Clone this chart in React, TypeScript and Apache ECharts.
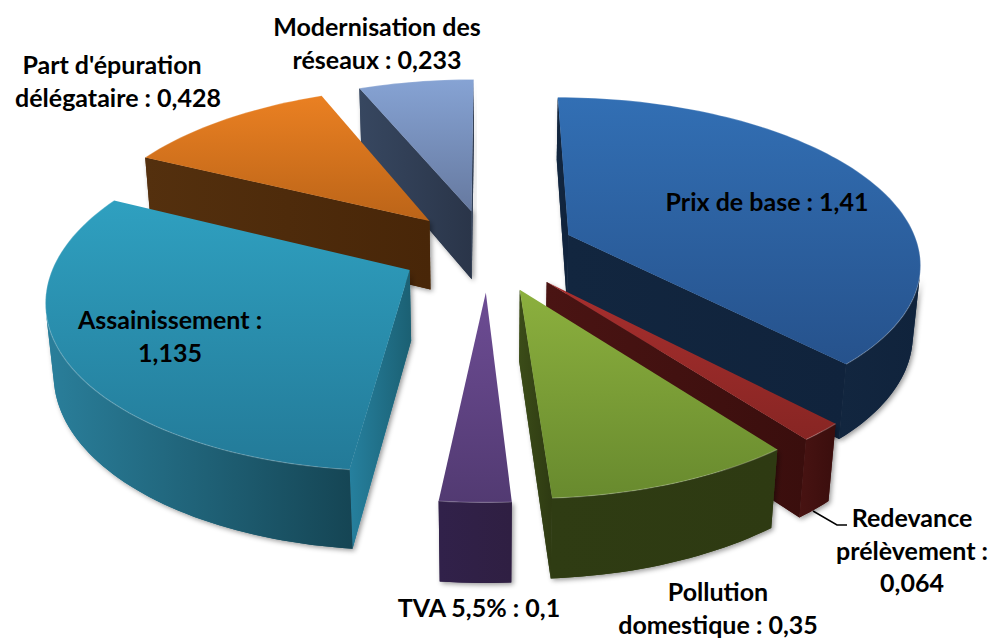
import React, { useEffect, useRef } from "react";
import * as echarts from "echarts";

// ---- data ----
const categories = [
  "Prix de base",
  "Redevance prélèvement",
  "Pollution domestique",
  "TVA 5,5%",
  "Assainissement",
  "Part d'épuration délégataire",
  "Modernisation des réseaux",
];
const values = [1.41, 0.064, 0.35, 0.1, 1.135, 0.428, 0.233];
const labelLines = [
  ["Prix de base : 1,41"],
  ["Redevance", "prélèvement :", "0,064"],
  ["Pollution", "domestique : 0,35"],
  ["TVA 5,5% : 0,1"],
  ["Assainissement :", "1,135"],
  ["Part d'épuration", "délégataire : 0,428"],
  ["Modernisation des", "réseaux : 0,233"],
];

// ---- styles and layout (kept apart from the data) ----
const topColors = [
  ["#326fb4", "#26528c"],
  ["#a82f2e", "#872523"],
  ["#8cb03e", "#688a2e"],
  ["#6d4c94", "#523a72"],
  ["#2fa0c0", "#237a98"],
  ["#ea8022", "#bb6418"],
  ["#86a3d4", "#66799f"],
];
const sideColors = [
  ["#12263f", "#10233c"],
  ["#481312", "#3a0e0d"],
  ["#2f3c13", "#2e3a12"],
  ["#31214a", "#2f1f42"],
  ["#2a7f9b", "#154554"],
  ["#54300e", "#482608"],
  ["#374760", "#2a3549"],
];
const cutColors = [
  ["#12263f", "#10233c"],
  ["#4a1413", "#3a0e0d"],
  ["#3b4c18", "#2e3a12"],
  ["#31214a", "#2f1f42"],
  ["#26809e", "#1b6073"],
  ["#54300e", "#482608"],
  ["#374760", "#2a3549"],
];
const drawOrder = [6, 5, 0, 4, 1, 2, 3];
const labelPos: number[][] = [
  [767, 201],
  [912, 517],
  [718, 591],
  [479, 607],
  [170, 319],
  [118, 64],
  [377, 26],
];
const labelDx: number[][] = [[0], [0, 0, 0], [0, 0], [0], [0, 0], [-6, 0], [0, 0]];
const leader = [[813, 511], [837, 525], [847, 525]];

const CX = 488, CY = 250, R = 351, A = 163.2, K = 0.1536, D = 71, ZK = 0.018, EXPLODE = 0.25;

const total = values.reduce((a, b) => a + b, 0);
const starts: number[] = [];
values.reduce((acc, v, i) => {
  starts[i] = acc;
  return acc + v;
}, 0);

function project(X: number, Y: number, z: number): number[] {
  const w = 1 + K * Y + ZK * z;
  return [CX + (R * X) / w, CY + (-A * Y + D * z) / w];
}
function area(p: number[][]): number {
  let s = 0;
  p.forEach((a, i) => {
    const b = p[(i + 1) % p.length];
    s += a[0] * b[1] - b[0] * a[1];
  });
  return s;
}
function grad(c: string[], horizontal: boolean) {
  return {
    type: "linear",
    x: 0,
    y: 0,
    x2: horizontal ? 1 : 0,
    y2: horizontal ? 0 : 1,
    colorStops: [
      { offset: 0, color: c[0] },
      { offset: 1, color: c[1] },
    ],
  };
}
const shadow = { shadowBlur: 5, shadowColor: "rgba(0,0,0,0.4)", shadowOffsetX: 2, shadowOffsetY: 2 };

function renderSlice(_: any, api: any) {
  const idx = api.value(0);
  const start = (api.value(1) / total) * Math.PI * 2;
  const end = ((api.value(1) + api.value(2)) / total) * Math.PI * 2;
  const mid = (start + end) / 2;
  const tx = EXPLODE * Math.sin(mid);
  const ty = EXPLODE * Math.cos(mid);
  const n = Math.max(6, Math.round((end - start) * 40));
  const angs: number[] = [];
  for (let i = 0; i <= n; i++) angs.push(start + ((end - start) * i) / n);
  const outer = (a: number, z: number) => project(tx + Math.sin(a), ty + Math.cos(a), z);
  const tipT = project(tx, ty, 0);
  const tipB = project(tx, ty, 1);
  const topArc = angs.map((a) => outer(a, 0));
  const botArc = angs.map((a) => outer(a, 1));

  const faces: { points: number[][]; fill: any }[] = [];
  const startFace = [tipT, topArc[0], botArc[0], tipB];
  const endFace = [topArc[n], tipT, tipB, botArc[n]];
  if (area(startFace) < 0) faces.push({ points: startFace, fill: grad(cutColors[idx], true) });
  if (area(endFace) < 0) faces.push({ points: endFace, fill: grad(cutColors[idx], true) });

  const vis: number[] = [];
  for (let i = 0; i < n; i++) {
    if (area([topArc[i], topArc[i + 1], botArc[i + 1], botArc[i]]) < 0) vis.push(i);
  }
  if (vis.length) {
    const first = vis[0];
    const last = vis[vis.length - 1] + 1;
    const pts = [...topArc.slice(first, last + 1), ...botArc.slice(first, last + 1).reverse()];
    faces.push({ points: pts, fill: grad(sideColors[idx], true) });
  }
  // shadow-casting copies first, clean faces above them, so faces never shade each other
  const children: any[] = [
    ...faces.map((f) => ({ type: "polygon", shape: { points: f.points }, style: { fill: f.fill, ...shadow } })),
    ...faces.map((f) => ({ type: "polygon", shape: { points: f.points }, style: { fill: f.fill } })),
  ];
  children.push({
    type: "polygon",
    shape: { points: [tipT, ...topArc] },
    style: { fill: grad(topColors[idx], false) },
  });
  children.push({
    type: "polyline",
    shape: { points: topArc },
    style: { fill: "none", stroke: "rgba(255,255,255,0.22)", lineWidth: 1.2 },
  });
  return { type: "group", children };
}

function renderLabel(_: any, api: any) {
  const i = api.value(0);
  const lines = labelLines[i];
  const children: any[] = lines.map((t, j) => ({
    type: "text",
    x: labelPos[i][0] + labelDx[i][j],
    y: labelPos[i][1] + j * 32.5,
    style: {
      text: t,
      fill: "#000",
      font: "bold 25px Lato",
      align: "center",
      verticalAlign: "middle",
    },
  }));
  if (i === 1) {
    children.unshift({
      type: "polyline",
      shape: { points: leader },
      style: { fill: "none", stroke: "#000", lineWidth: 1.5 },
    });
  }
  return { type: "group", children };
}

export default function App() {
  const ref = useRef<HTMLDivElement>(null);
  useEffect(() => {
    const chart = echarts.init(ref.current!, undefined, { renderer: "svg" });
    chart.setOption({
      animation: false,
      backgroundColor: "#fff",
      series: [
        {
          type: "custom",
          coordinateSystem: "none",
          name: "Prix",
          silent: true,
          renderItem: renderSlice,
          dimensions: ["index", "start", "value"],
          data: drawOrder.map((i) => ({ name: categories[i], value: [i, starts[i], values[i]] })),
        },
        {
          type: "custom",
          coordinateSystem: "none",
          name: "Labels",
          silent: true,
          renderItem: renderLabel,
          data: categories.map((c, i) => ({ name: c, value: [i] })),
        },
      ],
    });
    return () => chart.dispose();
  }, []);
  return <div ref={ref} style={{ position: "fixed", left: 0, top: 0, width: 991, height: 639 }} />;
}
